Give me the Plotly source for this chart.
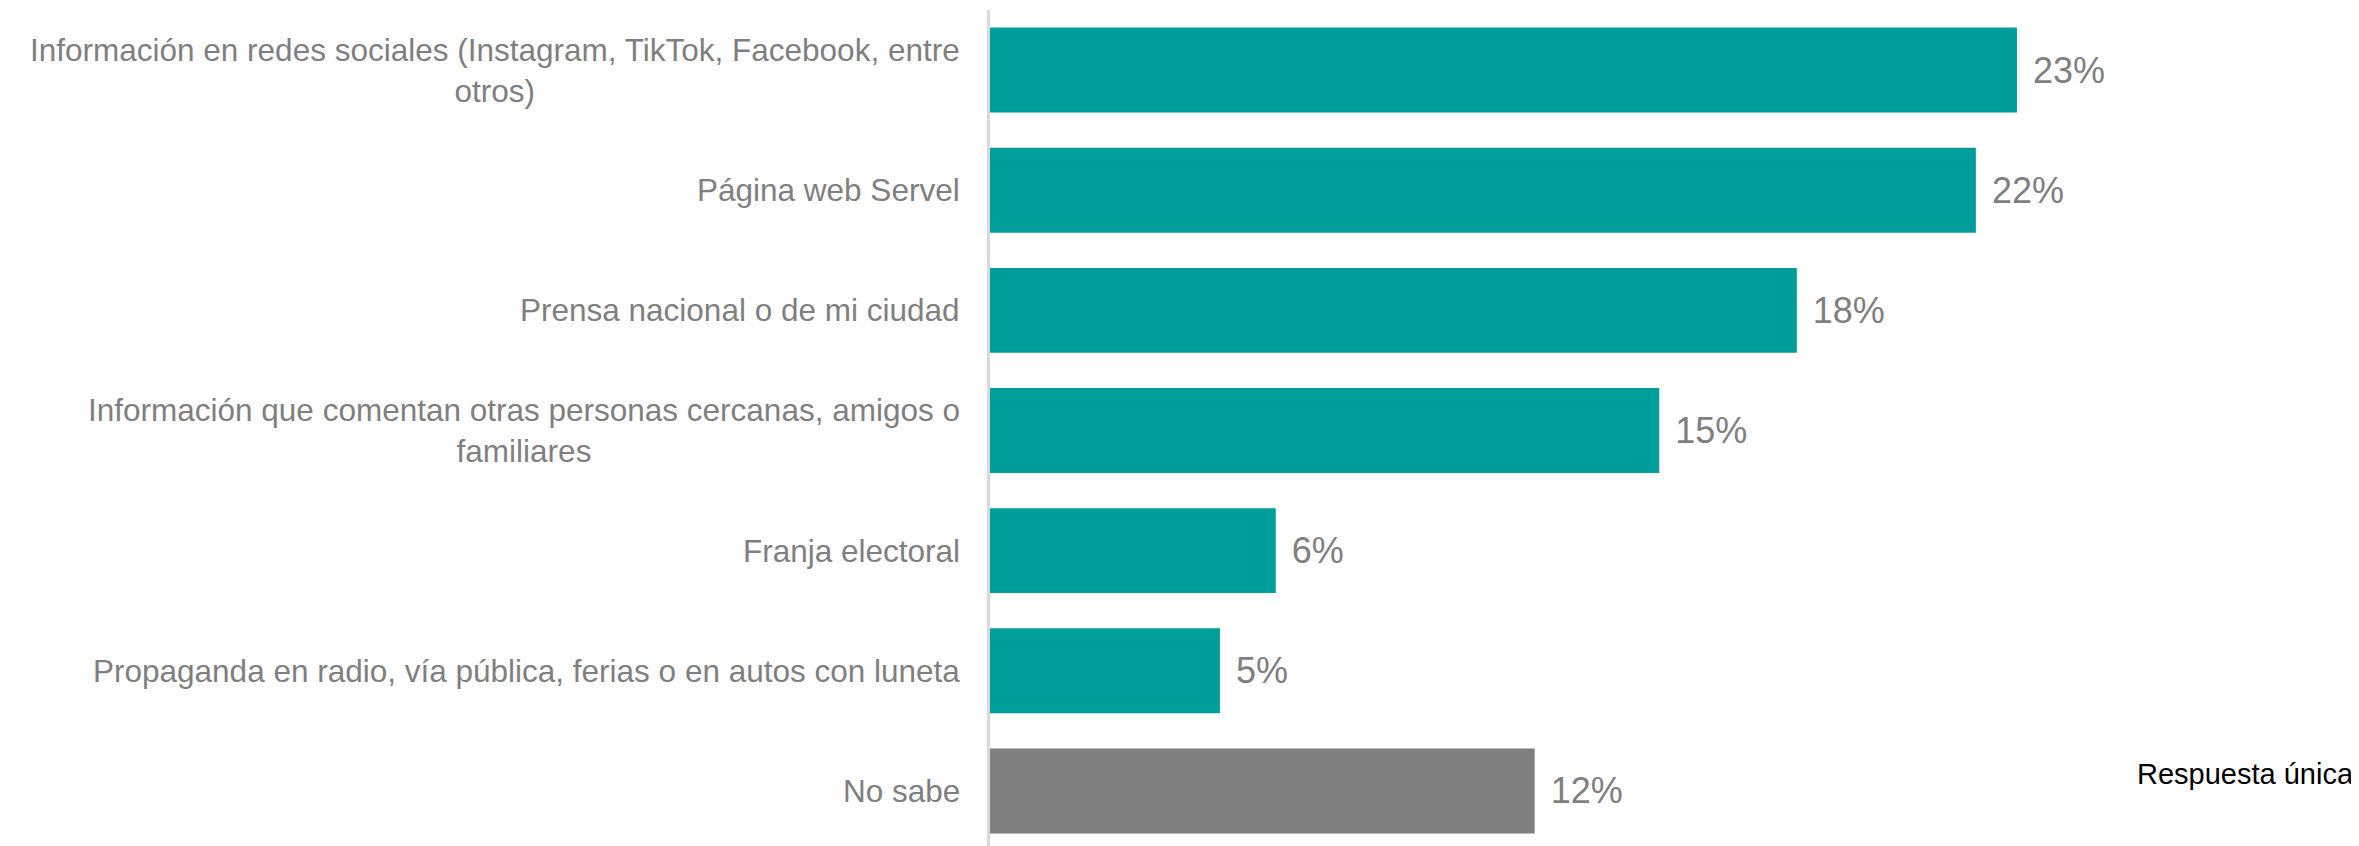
import plotly.graph_objects as go

categories = [
    "Información en redes sociales (Instagram, TikTok, Facebook, entre<br>otros)",
    "Página web Servel",
    "Prensa nacional o de mi ciudad",
    "Información que comentan otras personas cercanas, amigos o<br>familiares",
    "Franja electoral",
    "Propaganda en radio, vía pública, ferias o en autos con luneta",
    "No sabe",
]
values = [23.0, 22.08, 18.07, 14.99, 6.4, 5.15, 12.2]
colors = ["#009E9A"] * 6 + ["#7F7F7F"]
note = "Respuesta única"

fig = go.Figure()
fig.add_trace(go.Bar(
    x=values,
    y=categories,
    orientation="h",
    marker=dict(color=colors, line=dict(width=0)),
    text=[f" \u200a{round(v):.0f}%" for v in values],
    textposition="outside",
    textfont=dict(family="Liberation Sans, Arial", size=36, color="#7F7F7F"),
    cliponaxis=False,
    hoverinfo="skip",
))

for c in categories:
    fig.add_annotation(
        x=0, xref="paper", y=c, yref="y",
        text=c, showarrow=False,
        xanchor="right", yanchor="middle", align="center",
        xshift=-28,
        font=dict(family="Liberation Sans, Arial", size=31.5, color="#7F7F7F"),
    )

fig.add_annotation(
    x=0.992, xref="paper", y=0.092, yref="paper",
    text=note, showarrow=False, xanchor="right", yanchor="middle",
    font=dict(family="Liberation Sans, Arial", size=29, color="#000000"),
)

fig.update_layout(
    width=2359, height=846,
    margin=dict(l=982, r=0, t=2, b=3),
    paper_bgcolor="white", plot_bgcolor="white",
    bargap=0.293,
    showlegend=False,
)
fig.update_xaxes(range=[0, 30.84], showgrid=False, zeroline=False, showticklabels=False, showline=False)
fig.update_yaxes(autorange="reversed", showticklabels=False, showgrid=False,
                 showline=True, linecolor="#D9D9D9", linewidth=2.5)

fig.write_html("out.html")
